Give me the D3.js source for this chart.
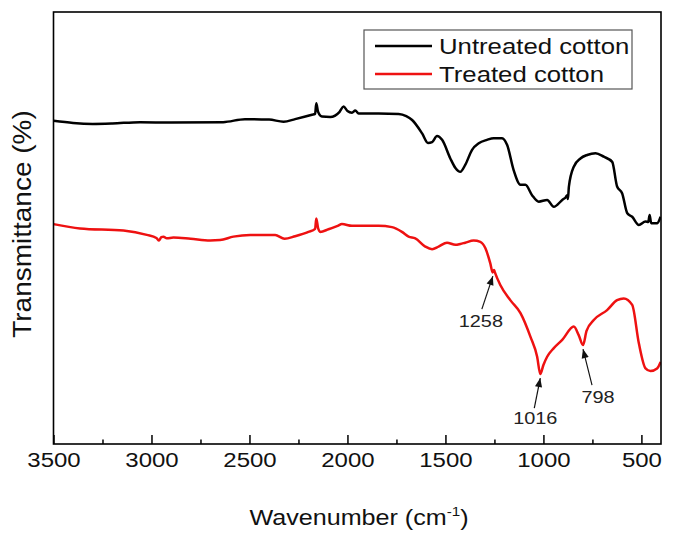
<!DOCTYPE html>
<html>
<head>
<meta charset="utf-8">
<script src="https://cdn.jsdelivr.net/npm/d3@7"></script>
<style>
  html, body { margin: 0; padding: 0; background: #fff; }
  svg { display: block; font-family: "Liberation Sans", Arial, sans-serif; }
</style>
</head>
<body>
<svg id="chart" width="675" height="537"></svg>
<script>
// ---- Data ----
const seriesNames = ["Untreated cotton", "Treated cotton"];
const seriesColors = ["#000000", "#ee1111"];

const untreatedWavenumber = [3500,3400,3300,3200,3058,2900,2634,2523,2400,2326,2267,2181,2165,2159,2150,2130,2088,2040,2020,2000,1977,1960,1943,1841,1739,1700,1670,1619,1589,1568,1543,1517,1475,1449,1424,1399,1364,1330,1288,1254,1211,1185,1152,1117,1092,1058,1024,981,947,904,885,879,875,870,845,811,777,734,692,649,624,598,572,547,513,479,465,458,450,420,402];
const untreatedT = [74.8,74.3,74.1,74.2,74.5,74.4,74.5,75.2,75.1,74.6,75.2,76.2,76.4,78.9,76.9,75.8,75.7,76.9,78.1,77.1,76.7,77.2,76.5,76.5,76.4,75.9,75.0,71.9,69.7,69.9,71.3,70.4,66.1,63.9,63.0,64.6,68.1,69.6,70.4,70.8,70.8,69.2,63.4,60.0,60.0,57.6,56.1,56.5,54.9,56.5,57.2,57.6,56.7,59.6,64.2,66.1,66.9,67.3,66.5,65.3,59.6,58.0,53.4,52.6,50.7,51.5,51.4,53.0,51.1,51.1,52.6];

const treatedWavenumber = [3500,3365,3143,3024,2975,2961,2950,2939,2922,2888,2800,2701,2650,2582,2496,2369,2321,2267,2199,2165,2159,2150,2139,2097,2050,2028,1977,1841,1773,1722,1688,1654,1603,1568,1535,1492,1449,1424,1399,1356,1322,1296,1271,1259,1252,1249,1220,1169,1117,1066,1032,1016,1000,981,947,904,845,820,798,780,743,675,624,590,547,513,479,454,420,402];
const treatedT = [50.9,49.9,49.4,48.4,47.7,47.1,47.9,48.0,47.6,47.8,47.5,47.1,47.2,48.0,48.4,48.4,47.5,48.1,49.1,49.8,52.2,50.0,49.1,49.7,50.5,50.9,50.5,50.5,50.2,49.1,48.0,47.6,45.7,45.1,45.7,46.6,46.1,46.3,46.6,47.1,46.8,45.3,41.8,39.7,40.3,39.9,36.8,33.3,30.3,24.8,20.2,16.2,18.3,20.2,22.2,24.1,27.2,25.2,22.9,26.2,28.7,31.0,33.3,33.7,32.2,23.3,17.5,16.9,17.5,19.0];

const majorTicks = [3500,3000,2500,2000,1500,1000,500];
const minorTicks = [3250,2750,2250,1750,1250,750];
const annotationWavenumbers = [1258, 1016, 798];
const annotationLabels = ["1258", "1016", "798"];
const xTitle = "Wavenumber (cm";
const xTitleSup = "-1";
const yTitle = "Transmittance (%)";

// ---- Layout ----
const svg = d3.select("#chart");
const m = { left: 53.5, right: 661, top: 12, bottom: 444 };
const SX = 1.17; // horizontal stretch of glyphs in the reference

const x = d3.scaleLinear().domain([3500, 400]).range([m.left, m.right]);
const y = d3.scaleLinear().domain([0, 100]).range([m.bottom, m.top]);

svg.append("clipPath").attr("id", "clip")
  .append("rect").attr("x", m.left).attr("y", m.top)
  .attr("width", m.right - m.left).attr("height", m.bottom - m.top);

const series = [
  untreatedWavenumber.map((w, i) => [w, untreatedT[i]]),
  treatedWavenumber.map((w, i) => [w, treatedT[i]])
];
const line = d3.line().x(d => x(d[0])).y(d => y(d[1])).curve(d3.curveMonotoneX);

svg.append("g").attr("clip-path", "url(#clip)")
  .selectAll("path").data(series).join("path")
  .attr("d", line)
  .attr("fill", "none")
  .attr("stroke", (d, i) => seriesColors[i])
  .attr("stroke-width", 2.5)
  .attr("stroke-linejoin", "round");

// ---- Axes ----
const gx = svg.append("g").attr("transform", `translate(0,${m.bottom})`)
  .call(d3.axisBottom(x).tickValues(majorTicks).tickSizeInner(-9).tickSizeOuter(0).tickPadding(8).tickFormat(d3.format("d")));
gx.select(".domain").remove();
gx.selectAll(".tick line").attr("stroke", "#000").attr("stroke-width", 1.5);
gx.selectAll(".tick text").attr("font-size", 20.5).attr("fill", "#111")
  .attr("font-family", "Liberation Sans, Arial, sans-serif")
  .attr("transform", `scale(${SX},1)`);

const gm = svg.append("g").attr("transform", `translate(0,${m.bottom})`)
  .call(d3.axisBottom(x).tickValues(minorTicks).tickSizeInner(-4.5).tickSizeOuter(0).tickFormat(""));
gm.select(".domain").remove();
gm.selectAll(".tick line").attr("stroke", "#000").attr("stroke-width", 1.5);

// frame
svg.append("rect").attr("x", m.left).attr("y", m.top)
  .attr("width", m.right - m.left).attr("height", m.bottom - m.top)
  .attr("fill", "none").attr("stroke", "#000").attr("stroke-width", 1.6);

// ---- Axis titles ----
const xt = svg.append("text")
  .attr("transform", `translate(359,525) scale(${SX},1)`)
  .attr("text-anchor", "middle").attr("font-size", 21.5).attr("fill", "#111");
xt.append("tspan").text(xTitle);
xt.append("tspan").attr("font-size", 13).attr("dy", -9).text(xTitleSup);
xt.append("tspan").attr("dy", 9).text(")");

svg.append("text")
  .attr("transform", `translate(31,224) rotate(-90) scale(1,0.93)`)
  .attr("text-anchor", "middle").attr("font-size", 28).attr("fill", "#111")
  .text(yTitle);

// ---- Legend ----
const lg = svg.append("g");
lg.append("rect").attr("x", 364).attr("y", 30).attr("width", 268).attr("height", 59)
  .attr("fill", "#fff").attr("stroke", "#555").attr("stroke-width", 1.2);
seriesNames.forEach((name, i) => {
  const yy = 46 + i * 28;
  lg.append("line").attr("x1", 375).attr("x2", 432).attr("y1", yy).attr("y2", yy)
    .attr("stroke", seriesColors[i]).attr("stroke-width", 2.5);
  lg.append("text").attr("transform", `translate(439,${yy + 8}) scale(${SX},1)`)
    .attr("font-size", 22).attr("fill", "#111").text(name);
});

// ---- Annotations ----
function curveY(wn) {
  const s = series[1];
  for (let i = 0; i < s.length - 1; i++) {
    if (wn <= s[i][0] && wn >= s[i + 1][0]) {
      const t = (s[i][0] - wn) / (s[i][0] - s[i + 1][0]);
      return y(s[i][1] + t * (s[i + 1][1] - s[i][1]));
    }
  }
  return y(s[s.length - 1][1]);
}
// arrow tail offsets (dx, dy) from tip and label offsets from tip
const annoOffsets = [
  { tail: [-11, 33], label: [-12, 51] },
  { tail: [-6, 30], label: [-5, 46] },
  { tail: [9, 36], label:[15, 54] }
];
svg.append("defs").append("marker").attr("id", "ah").attr("viewBox", "0 0 10 10")
  .attr("refX", 10).attr("refY", 5).attr("markerWidth", 10).attr("markerHeight", 9)
  .attr("markerUnits", "userSpaceOnUse").attr("orient", "auto")
  .append("path").attr("d", "M0,1 L10,5 L0,9 Z").attr("fill", "#111");

annotationWavenumbers.forEach((wn, i) => {
  const tx = x(wn), ty = curveY(wn) + 4;
  const o = annoOffsets[i];
  svg.append("line")
    .attr("x1", tx + o.tail[0]).attr("y1", ty + o.tail[1])
    .attr("x2", tx).attr("y2", ty)
    .attr("stroke", "#111").attr("stroke-width", 1.2).attr("marker-end", "url(#ah)");
  svg.append("text")
    .attr("transform", `translate(${tx + o.label[0]},${ty + o.label[1]}) scale(${SX},1)`)
    .attr("text-anchor", "middle").attr("font-size", 17).attr("fill", "#222")
    .text(annotationLabels[i]);
});
</script>
</body>
</html>
